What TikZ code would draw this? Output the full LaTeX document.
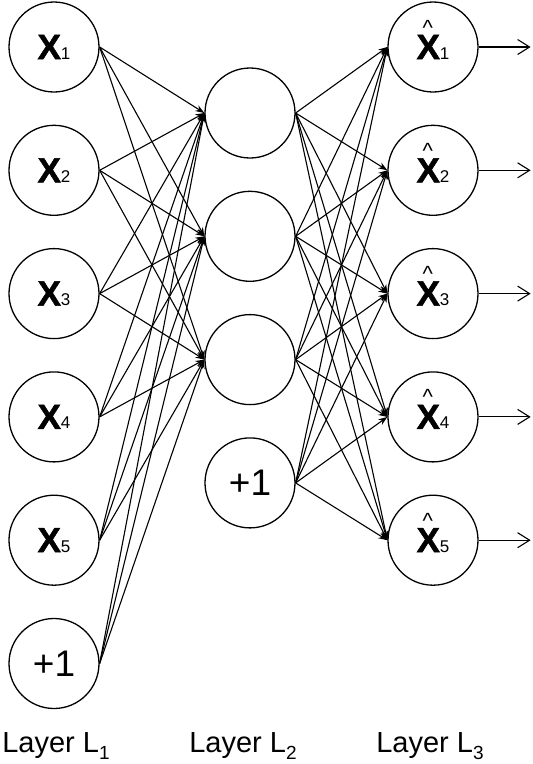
\documentclass[tikz,border=0pt]{standalone}
\usepackage{fontspec}
\setmainfont{Liberation Sans}[BoldFont=Liberation Sans Bold]
\newfontfamily\heavyfont{Liberation Sans Bold}[FakeBold=1.5]
\usetikzlibrary{positioning}
\usetikzlibrary{arrows.meta}
\tikzset{
  unit/.style    = { circle, draw=black, line width=1.3pt, minimum size=90pt, inner sep=0pt },
  input/.style   = { unit, font=\fontsize{35}{35}\selectfont },
  bias/.style    = { unit, font=\fontsize{37}{37}\selectfont },
  layer/.style   = { font=\fontsize{29}{29}\selectfont, anchor=base },
  link/.style    = { line width=1.1pt, -{Stealth[length=9pt,width=6.5pt]} },
  outlink/.style = { line width=1.1pt, -{Straight Barb[length=12pt,width=15pt]} },
}
\newcommand{\unitsub}[1]{{\fontsize{17}{17}\selectfont #1}}
\newcommand{\inx}[1]{{\heavyfont X}\unitsub{#1}}
\newcommand{\outx}[1]{\rlap{\raisebox{24pt}[0pt][0pt]{\hspace{6pt}\fontsize{22}{22}\selectfont\textasciicircum}}\inx{#1}}
\newcommand{\layersub}[1]{\raisebox{-7pt}{{\fontsize{19}{19}\selectfont #1}}}
\begin{document}
\begin{tikzpicture}[x=1pt,y=-1pt,node distance=32pt]
  \useasboundingbox (0,0) rectangle (533,764);

  % layer L1
  \node (x1) [input] at (54,47)   {\inx{1}};
  \node (x2) [input,below=of x1]  {\inx{2}};
  \node (x3) [input,below=of x2]  {\inx{3}};
  \node (x4) [input,below=of x3]  {\inx{4}};
  \node (x5) [input,below=of x4]  {\inx{5}};
  \node (xb) [bias,below=of x5]   {+1};

  % layer L2
  \node (h1) [unit] at (250,113)  {};
  \node (h2) [unit,below=of h1]   {};
  \node (h3) [unit,below=of h2]   {};
  \node (hb) [bias,below=of h3]   {+1};

  % layer L3
  \node (o1) [input] at (433,47)  {\outx{1}};
  \node (o2) [input,below=of o1]  {\outx{2}};
  \node (o3) [input,below=of o2]  {\outx{3}};
  \node (o4) [input,below=of o3]  {\outx{4}};
  \node (o5) [input,below=of o4]  {\outx{5}};
  \foreach \i in {1,...,5}
    \coordinate (e\i) at ([xshift=52pt]o\i.east);

  \foreach \a in {x1,x2,x3,x4,x5,xb}
    \foreach \b in {h1,h2,h3}
      \draw [link] (\a.east) -- (\b.west);
  \foreach \a in {h1,h2,h3,hb}
    \foreach \b in {o1,o2,o3,o4,o5}
      \draw [link] (\a.east) -- (\b.west);
  \foreach \i in {1,...,5}
    \draw [outlink] (o\i.east) -- (e\i);

  \node (l1) [layer] at (56,752)  {Layer L\layersub{1}};
  \node (l2) [layer] at (243,752) {Layer L\layersub{2}};
  \node (l3) [layer] at (430,752) {Layer L\layersub{3}};
\end{tikzpicture}
\end{document}
